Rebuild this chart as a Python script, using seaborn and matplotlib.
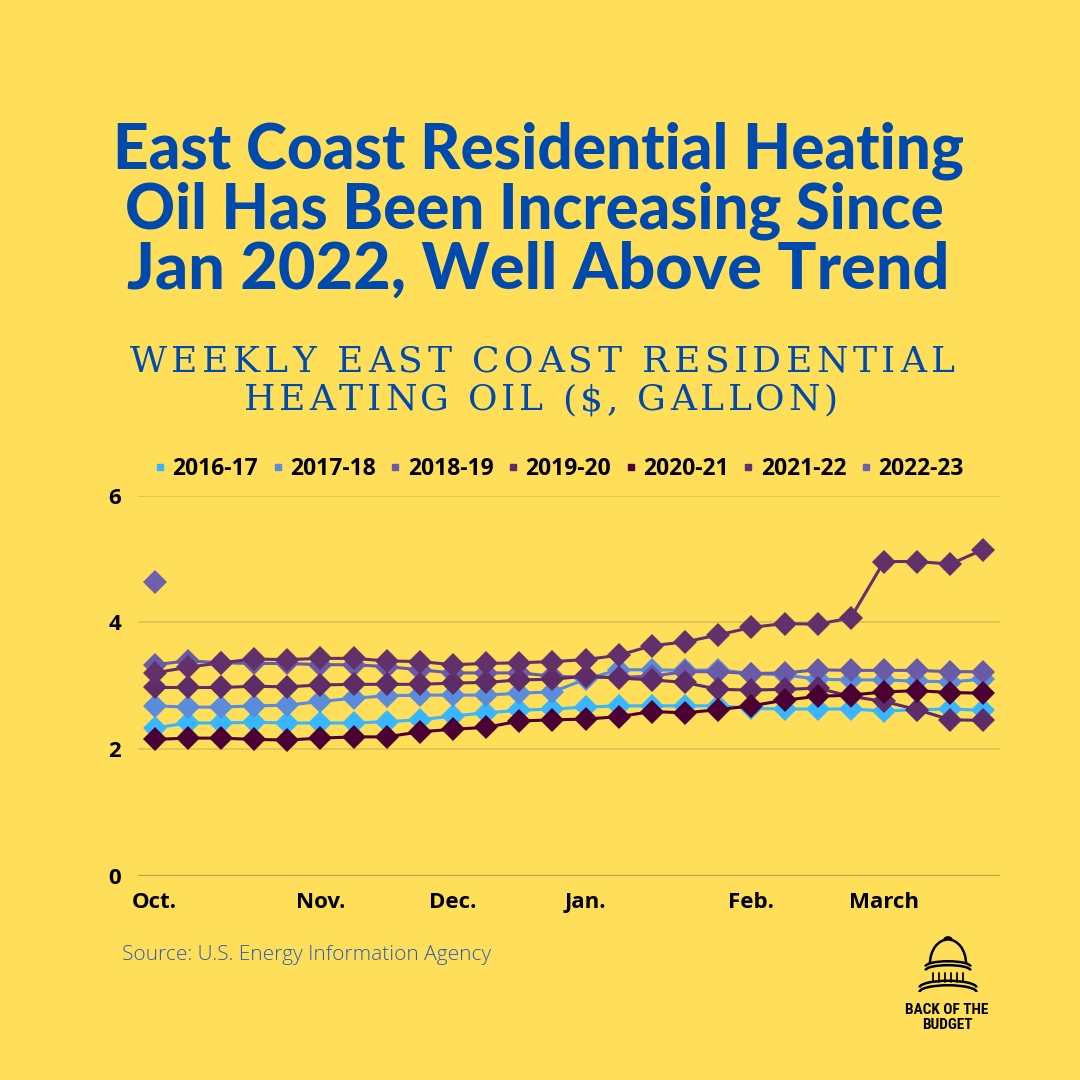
import matplotlib
matplotlib.use("Agg")
import matplotlib.pyplot as plt
from matplotlib.lines import Line2D
from matplotlib.patches import Arc
from matplotlib.font_manager import FontProperties
import seaborn as sns
import pandas as pd

# weekly East Coast residential heating oil prices, $/gallon (first Monday of Oct -> end of March)
seasons = ["2016-17", "2017-18", "2018-19", "2019-20", "2020-21", "2021-22", "2022-23"]
colors = ["#38B6FF", "#5B8BDB", "#6A5BA8", "#5E2C68", "#4A0033", "#62306A", "#6E60AC"]

p_2016_17 = [2.33, 2.41, 2.41, 2.42, 2.41, 2.41, 2.41, 2.43, 2.46, 2.52, 2.57, 2.61, 2.63,
             2.66, 2.68, 2.68, 2.68, 2.68, 2.64, 2.63, 2.63, 2.63, 2.60, 2.62, 2.63, 2.61]
p_2017_18 = [2.68, 2.66, 2.66, 2.68, 2.69, 2.75, 2.80, 2.84, 2.85, 2.85, 2.85, 2.88, 2.90,
             3.10, 3.25, 3.25, 3.24, 3.25, 3.19, 3.17, 3.10, 3.09, 3.09, 3.07, 3.06, 3.10]
p_2018_19 = [3.33, 3.39, 3.36, 3.35, 3.35, 3.33, 3.33, 3.30, 3.25, 3.20, 3.20, 3.20, 3.15,
             3.13, 3.13, 3.15, 3.22, 3.22, 3.19, 3.20, 3.25, 3.24, 3.24, 3.24, 3.22, 3.22]
p_2019_20 = [2.97, 2.97, 2.97, 2.99, 2.98, 3.01, 3.02, 3.02, 3.02, 3.04, 3.05, 3.09, 3.10,
             3.15, 3.12, 3.09, 3.05, 2.94, 2.93, 2.94, 2.96, 2.83, 2.75, 2.62, 2.46, 2.45]
p_2020_21 = [2.15, 2.17, 2.17, 2.15, 2.14, 2.17, 2.19, 2.19, 2.27, 2.31, 2.34, 2.44, 2.46,
             2.47, 2.51, 2.59, 2.57, 2.62, 2.68, 2.77, 2.83, 2.85, 2.90, 2.92, 2.89, 2.88]
p_2021_22 = [3.20, 3.29, 3.36, 3.42, 3.41, 3.43, 3.43, 3.39, 3.38, 3.33, 3.35, 3.36, 3.38,
             3.41, 3.48, 3.63, 3.69, 3.80, 3.92, 3.98, 3.97, 4.07, 4.96, 4.96, 4.92, 5.15]
p_2022_23 = [4.64]

month_ticks = [0, 5, 9, 13, 18, 22]
month_labels = ["Oct.", "Nov.", "Dec.", "Jan.", "Feb.", "March"]

series = [p_2016_17, p_2017_18, p_2018_19, p_2019_20, p_2020_21, p_2021_22, p_2022_23]
rows = []
for season, vals in zip(seasons, series):
    for week, v in enumerate(vals):
        rows.append({"week": week, "season": season, "price": v})
df = pd.DataFrame(rows)

BG = "#FFDE59"
BLUE = "#004AAD"
W = H = 1080

sns.set_theme(style="white")
plt.rcParams["font.family"] = ["Open Sans", "DejaVu Sans"]
plt.rcParams["text.color"] = "black"

fig = plt.figure(figsize=(10.8, 10.8), dpi=100, facecolor=BG)
ax = fig.add_axes([138 / W, 1 - 875.5 / H, (1000 - 138) / W, (875.5 - 495.7) / H])
ax.set_facecolor(BG)

sns.lineplot(data=df, x="week", y="price", hue="season", hue_order=seasons,
             palette=colors, marker="D", markersize=12, markeredgewidth=0,
             linewidth=2.2, errorbar=None, legend=False, ax=ax)

ax.set_xlim(-0.5, 25.5)
ax.set_ylim(0, 6)
ax.set_yticks([0, 2, 4, 6])
ax.set_xticks(month_ticks)
ax.set_xticklabels(month_labels)
ax.set_xlabel("")
ax.set_ylabel("")
for s in ax.spines.values():
    s.set_visible(False)
ax.grid(False)
for yv in [2, 4, 6]:
    ax.axhline(yv, color="#E2C352", lw=1.3, zorder=0)
ax.axhline(0, color="#BFA143", lw=1.6, zorder=0)
ax.tick_params(axis="both", length=0, labelsize=16, labelcolor="black")
ax.tick_params(axis="y", pad=12)
ax.tick_params(axis="x", pad=12)
for lab in ax.get_xticklabels() + ax.get_yticklabels():
    lab.set_fontweight("bold")

# legend
handles = [Line2D([], [], ls="", marker="s", markersize=5, color=c) for c in colors]
fig.legend(handles, seasons, loc="center", bbox_to_anchor=(559 / W, 1 - 469 / H), ncol=7,
           frameon=False, handlelength=0.5, handletextpad=0.3, columnspacing=0.6,
           labelcolor="black",
           prop={"family": "Open Sans", "weight": "bold", "size": 16.5})

renderer = fig.canvas.get_renderer()


def fit_text(s, cx, base_y, width_px, **kw):
    t = fig.text(cx / W, 1 - base_y / H, s, ha="center", va="baseline", **kw)
    w = t.get_window_extent(renderer).width
    t.set_fontsize(t.get_fontsize() * width_px / w)
    return t


def tracked_text(s, cx, base_y, width_px, prop, color):
    def tw(txt):
        return renderer.get_text_width_height_descent(txt, prop, ismath=False)[0]
    base = tw("HH")
    adv = [tw("H" + c + "H") - base for c in s]
    track = (width_px - sum(adv)) / (len(s) - 1)
    x = cx - width_px / 2
    for c, a in zip(s, adv):
        fig.text((x + a / 2) / W, 1 - base_y / H, c, ha="center", va="baseline",
                 fontproperties=prop, color=color)
        x += a + track


# title
title_kw = dict(family=["Lato", "DejaVu Sans"], weight="black", color=BLUE, fontsize=48)
fit_text("East Coast Residential Heating", 538, 168, 851, **title_kw)
fit_text("Oil Has Been Increasing Since", 534, 228, 819, **title_kw)
fit_text("Jan 2022, Well Above Trend", 538, 288, 822, **title_kw)

# subtitle
sub_prop = FontProperties(family="DejaVu Serif", size=26)
tracked_text("WEEKLY EAST COAST RESIDENTIAL", 542, 372, 825, sub_prop, BLUE)
tracked_text("HEATING OIL ($, GALLON)", 541, 410, 594, sub_prop, BLUE)

# source
fig.text(122 / W, 1 - 960 / H, "Source: U.S. Energy Information Agency", ha="left",
         va="baseline", fontsize=15, color="#2A5DB5", family="Open Sans", weight="light")

# logo
lax = fig.add_axes([915 / W, 1 - 995 / H, 66 / W, 60 / H])
lax.set_xlim(-1.1, 1.1)
lax.set_ylim(0, 2.0)
lax.axis("off")
lk = dict(color="black", lw=1.8)
lax.add_patch(Arc((0, 1.05), 1.2, 1.6, theta1=0, theta2=180, **lk))
lax.add_patch(Arc((0, 1.82), 0.25, 0.2, theta1=0, theta2=180, **lk))
lax.add_patch(Arc((0, 0.95), 1.5, 0.35, theta1=0, theta2=180, **lk))
lax.add_patch(Arc((0, 0.82), 1.5, 0.35, theta1=0, theta2=180, **lk))
for xv in [-0.5, -0.3, -0.1, 0.1, 0.3, 0.5]:
    lax.plot([xv, xv], [0.45, 0.75], color="black", lw=1.3)
lax.add_patch(Arc((0, 0.25), 1.9, 0.45, theta1=0, theta2=180, **lk))
lax.add_patch(Arc((0, 0.1), 1.9, 0.45, theta1=0, theta2=180, **lk))

logo_kw = dict(ha="center", va="baseline", color="black", fontsize=11, weight="bold",
               stretch="condensed",
               family=["Liberation Sans Narrow", "Roboto Condensed", "DejaVu Sans"])
fig.text(947 / W, 1 - 1014 / H, "BACK OF THE", **logo_kw)
fig.text(947 / W, 1 - 1029 / H, "BUDGET", **logo_kw)

fig.savefig("out.png", dpi=100, facecolor=BG)
